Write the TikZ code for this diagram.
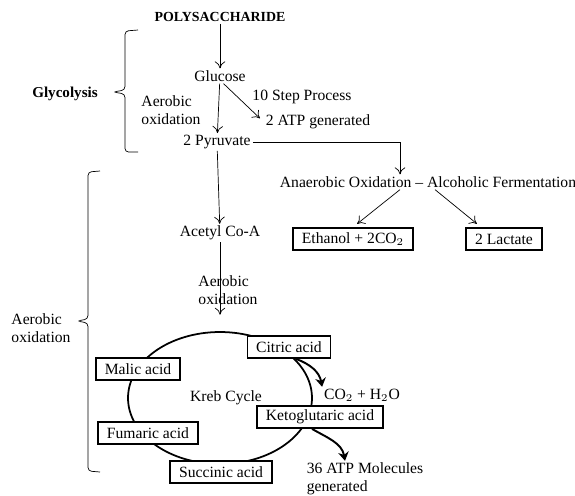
\documentclass[tikz,border=0pt]{standalone}
\usepackage{fontspec}
\setmainfont{Liberation Serif}
\usetikzlibrary{arrows.meta}

\begin{document}
\begin{tikzpicture}[x=0.02cm, y=-0.02cm, font=\fontsize{8.9}{10.2}\selectfont,
  every node/.style={inner sep=1pt},
  box/.style={draw=black, line width=1pt, fill=white, minimum height=0.44cm, inner xsep=5pt},
  flow/.style={-{To[length=4pt,width=6pt]}},
  yield/.style={-{Stealth[length=5pt,width=6pt]}, line width=1.1pt}]

\useasboundingbox (0,0) rectangle (575,495);

\node[font=\fontsize{7.9}{9}\selectfont\bfseries] (P) at (220,17) {POLYSACCHARIDE};
\node (G) at (220,76) {Glucose};
\node (PY) at (217,142) {2 Pyruvate};
\node (S) at (302,97) {10 Step Process};
\node (ATP) at (318,122) {2 ATP generated};
\node[align=left] (AO1) at (171,110) {Aerobic\\oxidation};
\node[font=\fontsize{8.6}{10}\selectfont\bfseries] (GL) at (65,94) {Glycolysis};
\node (AN) at (428,182) {Anaerobic Oxidation -- Alcoholic Fermentation};
\node[box] (E) at (353,239) {Ethanol + 2CO$_2$};
\node[box] (L) at (504,239) {2 Lactate};
\node (AC) at (220,233) {Acetyl Co-A};
\node[align=left] (AO2) at (228,290) {Aerobic\\oxidation};
\node[align=left] (AO3) at (41,328) {Aerobic\\oxidation};

\draw[line width=1pt] (220,398) ellipse [x radius=1.84cm, y radius=1.32cm];
\node (K) at (226,398) {Kreb Cycle};
\node[box] (C) at (289,347) {Citric acid};
\node[box] (M) at (138,369) {Malic acid};
\node[box] (F) at (148,433) {Fumaric acid};
\node[box] (SU) at (221,472) {Succinic acid};
\node[box] (KG) at (320,417) {Ketoglutaric acid};
\node (W) at (362,395) {CO$_2$ + H$_2$O};
\node[align=left] (M36) at (365,479) {36 ATP Molecules\\generated};

\draw[flow] (P) -- (G);
\draw[flow] (G) -- (PY);
\draw[flow, shorten >=3pt] ([xshift=2pt]G.south) -- (ATP.west);
\draw[flow] (PY) -- (AC);
\draw[flow] (AC) -- ([yshift=-1.45cm]AC.south);
\draw[flow] (PY.east) -| ([xshift=-0.56cm]AN.north);
\draw[flow, shorten >=3pt] ([xshift=-0.56cm]AN.south) -- (E.north);
\draw[flow, shorten >=3pt] ([xshift=0.14cm]AN.south) -- ([xshift=-0.46cm]L.north);

\draw[yield] ([xshift=0.14cm]C.south) to[out=-20, in=100] (W.north west);
\draw[yield] ([xshift=-0.16cm]KG.south) to[out=-30, in=100] ([xshift=-0.4cm]M36.north);

\draw[rounded corners=2pt] (138,30) -- (125,31) -- (125,90) -- (113,92) -- (125,94) -- (125,152) -- (138,152);
\draw[rounded corners=2pt] (100,171) -- (88,172) -- (88,319) -- (77,321) -- (88,323) -- (88,471) -- (100,472);

\end{tikzpicture}
\end{document}
